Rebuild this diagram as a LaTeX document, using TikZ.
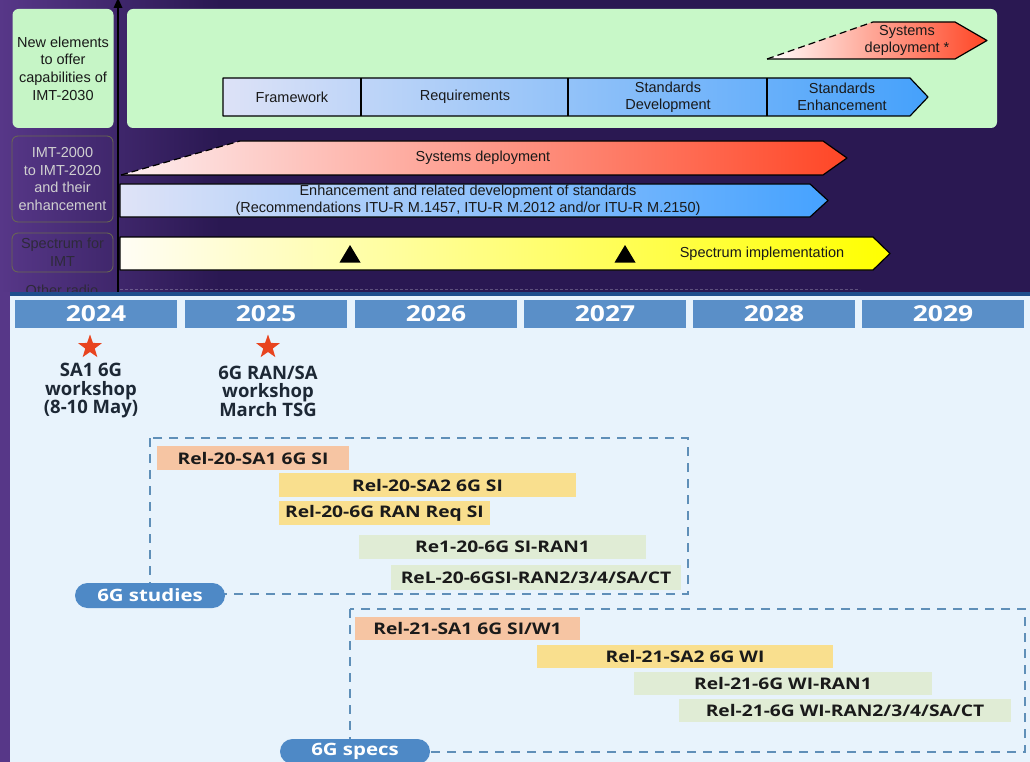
\documentclass[tikz,border=0pt]{standalone}
\usepackage{fontspec}
\setmainfont{Liberation Sans}
\newfontfamily\osans{Open Sans}
\newfontfamily\osanswide[FakeStretch=1.2]{Open Sans}
\usetikzlibrary{shapes.geometric}

% page and panel colours
\definecolor{bgpurple}{HTML}{2A1852}
\definecolor{bgleft}{HTML}{573788}
\definecolor{panelbg}{HTML}{E8F3FC}
\definecolor{panelrim}{HTML}{1F4E8C}
% ITU time line
\definecolor{boxgreen}{HTML}{C8F8C8}
\definecolor{taggreen}{HTML}{C6F5C6}
\definecolor{tagrim}{HTML}{6B6A50}
\definecolor{taglight}{HTML}{D0D0D0}
\definecolor{tagdark}{HTML}{2E2A3A}
\definecolor{chainL}{HTML}{DDE2F7}
\definecolor{chainM}{HTML}{B6C9F0}
\definecolor{chainR}{HTML}{45A1FB}
\definecolor{sysM}{HTML}{FFD6D0}
\definecolor{sysR}{HTML}{FF4524}
\definecolor{depL}{HTML}{FDEEF0}
\definecolor{depM}{HTML}{FCD2D0}
\definecolor{depR}{HTML}{FF4626}
\definecolor{enhL}{HTML}{DFE3F7}
\definecolor{enhM}{HTML}{BFCDF2}
\definecolor{enhR}{HTML}{45A2FF}
\definecolor{specL}{HTML}{FFFDF5}
\definecolor{specM}{HTML}{FFEFCC}
\definecolor{specR}{HTML}{FFFF00}
% 3GPP time line
\definecolor{yearblue}{HTML}{5A8FC8}
\definecolor{evtext}{HTML}{1D2835}
\definecolor{bartext}{HTML}{1A1A1A}
\definecolor{peach}{HTML}{F6C5A3}
\definecolor{sand}{HTML}{F9DF8E}
\definecolor{sage}{HTML}{E0ECD5}
\definecolor{phaseline}{HTML}{5F8FB8}
\definecolor{pillblue}{HTML}{4E89C6}
\definecolor{starred}{HTML}{E8441F}

\begin{document}
\begin{tikzpicture}[x=1pt,y=-1pt,
  itutext/.style={font=\fontsize{14.5}{17}\selectfont, align=center, inner sep=0, text=black!90},
  sidetag/.style={font=\fontsize{14.5}{17.7}\selectfont, align=center, inner sep=0, rounded corners=6,
                  minimum width=101},
  outline/.style={draw=black, line width=1.2pt, line join=round},
  yearbox/.style={fill=yearblue, text=white, minimum width=162, minimum height=28, inner sep=0,
                  font=\osanswide\bfseries\fontsize{22}{22}\selectfont},
  eventtext/.style={text=evtext, align=center, inner sep=0,
                    font=\osans\bfseries\fontsize{18.5}{18.5}\selectfont},
  bar/.style={minimum height=24, inner sep=0, text=bartext,
              font=\osanswide\bfseries\fontsize{16}{16}\selectfont},
  peachbar/.style={bar, fill=peach},
  sandbar/.style={bar, fill=sand},
  sagebar/.style={bar, fill=sage},
  phasebox/.style={draw=phaseline, line width=1.8pt, dash pattern=on 9pt off 7pt},
  pill/.style={fill=pillblue, text=white, rounded corners=12.5, minimum width=150, minimum height=25,
               inner sep=0, font=\osanswide\bfseries\fontsize{17}{17}\selectfont},
  redstar/.style={star, star points=5, star point ratio=2.5, fill=starred, inner sep=0, minimum size=25}
]
\useasboundingbox (0,0) rectangle (1030,762);
\clip (0,0) rectangle (1030,762);

% ---------------- ITU-R time line (upper band only) ----------------
\begin{scope}
\clip (0,0) rectangle (1030,292);
% backdrop
\fill[bgpurple] (0,0) rectangle (1030,292);
\shade[left color=bgleft, right color=bgpurple] (0,0) rectangle (220,292);

% row headers
\node[sidetag, fill=taggreen, minimum height=119, text=black!90] (tagnew) at (63,68.5)
  {New elements\\to offer\\capabilities of\\IMT-2030};
\node[sidetag, draw=tagrim, line width=0.8pt, minimum height=86, text=taglight] (tagimt) at (62.5,179)
  {IMT-2000\\to IMT-2020\\and their\\enhancement};
\node[sidetag, draw=tagrim, line width=0.8pt, minimum height=39, text=tagdark] (tagspec) at (62.5,252.5)
  {Spectrum for\\IMT};
\node[itutext, text=tagdark] (tagother) at (62,290) {Other radio};

\draw[densely dashed, line width=0.6pt, draw=white, opacity=0.25] (120,289) -- (860,289);

% time axis with its arrow head at the top edge
\fill[black] (117,6) rectangle (119,292);
\fill[black] (113.5,8) -- (118,-2) -- (122.5,8) -- cycle;

% IMT-2030 area
\fill[boxgreen, rounded corners=6] (127,9) rectangle (997,128);

% Framework -> Standards Enhancement chain
\shade[left color=chainL, middle color=chainM, right color=chainR]
  (223,78) -- (910,78) -- (928,97) -- (910,116) -- (223,116) -- cycle;
\draw[outline] (223,78) -- (910,78) -- (928,97) -- (910,116) -- (223,116) -- cycle;
\draw[outline] (361,78) -- (361,116) (568,78) -- (568,116) (767,78) -- (767,116);
\node[itutext] (fw)   at (292,97)  {Framework};
\node[itutext] (req)  at (465,97)  {Requirements};
\node[itutext] (sdev) at (668,97)  {Standards\\Development};
\node[itutext] (senh) at (842,97)  {Standards\\Enhancement};

% IMT-2030 systems deployment
\shade[left color=white, middle color=sysM, right color=sysR]
  (767,59) -- (873,22) -- (955,22) -- (987,40.5) -- (955,59) -- cycle;
\draw[outline, dash pattern=on 7pt off 4pt] (767,59) -- (873,22);
\draw[outline] (873,22) -- (955,22) -- (987,40.5) -- (955,59) -- (767,59);
\node[itutext] (sys2030) at (907,40.5) {Systems\\deployment *};

% IMT-2000 to IMT-2020 systems deployment
\shade[left color=depL, middle color=depM, right color=depR]
  (121,175) -- (240,141) -- (823,141) -- (847,158) -- (823,175) -- cycle;
\draw[outline, dash pattern=on 7pt off 4pt] (121,175) -- (240,141);
\draw[outline] (240,141) -- (823,141) -- (847,158) -- (823,175) -- (121,175);
\node[itutext] (sysold) at (483,158) {Systems deployment};

% enhancement of standards
\shade[left color=enhL, middle color=enhM, right color=enhR]
  (120,184) -- (810,184) -- (828,200.5) -- (810,217) -- (120,217) -- cycle;
\draw[outline] (120,184) -- (810,184) -- (828,200.5) -- (810,217) -- (120,217) -- cycle;
\node[itutext] (enh) at (468,200.5)
  {Enhancement and related development of standards\\(Recommendations ITU-R M.1457, ITU-R M.2012 and/or ITU-R M.2150)};

% spectrum implementation
\shade[left color=specL, middle color=specM, right color=specR]
  (120,237) -- (873,237) -- (890,253.5) -- (873,270) -- (120,270) -- cycle;
\draw[outline] (120,237) -- (873,237) -- (890,253.5) -- (873,270) -- (120,270) -- cycle;
\fill (339.5,262.5) -- (350,245) -- (360.5,262.5) -- cycle;
\fill (614.5,262.5) -- (625,245) -- (635.5,262.5) -- cycle;
\node[itutext] (specimpl) at (762,253.5) {Spectrum implementation};
\end{scope}

% ---------------- 3GPP time line ----------------
\fill[bgleft] (0,292) rectangle (10,762);
\fill[panelbg] (10,292) rectangle (1030,762);
\fill[panelrim] (10,292) rectangle (1030,296);

% years
\node[yearbox] (y2024) at (96,314)    {2024};
\node[yearbox] (y2025) at (266,314)   {2025};
\node[yearbox] (y2026) at (436,314)   {2026};
\node[yearbox] (y2027) at (605,314)   {2027};
\node[yearbox] (y2028) at (774,314)   {2028};
\node[yearbox] (y2029) at (943,314)   {2029};

% workshops
\node[redstar] (star24) at (90,347) {};
\node[redstar] (star25) at (268,347) {};
\node[eventtext] (ws24) at (91,391)  {SA1 6G\\workshop\\(8-10 May)};
\node[eventtext] (ws25) at (268,391) {6G RAN/SA\\workshop\\March TSG};

% Release 20: 6G studies
\draw[phasebox] (150,438) rectangle (688,594);
\node[peachbar, minimum width=192] (r20sa1) at (253,458)   {Rel-20-SA1 6G SI};
\node[sandbar,  minimum width=297] (r20sa2) at (427.5,485) {Rel-20-SA2 6G SI};
\node[sandbar,  minimum width=211] (r20req) at (384.5,513) {Rel-20-6G RAN Req SI};
\node[sagebar,  minimum width=287] (r20ran1) at (502.5,547) {Re1-20-6G SI-RAN1};
\node[sagebar,  minimum width=290, minimum height=25] (r20rest) at (536,577.5) {ReL-20-6GSI-RAN2/3/4/SA/CT};
\node[pill] (studies) at (150,595.5) {6G studies};

% Release 21: 6G specs
\draw[phasebox] (350,609) rectangle (1025,752);
\node[peachbar, minimum width=225, minimum height=23] (r21sa1) at (467.5,628.5) {Rel-21-SA1 6G SI/W1};
\node[sandbar,  minimum width=296, minimum height=23] (r21sa2) at (685,656.5)   {Rel-21-SA2 6G WI};
\node[sagebar,  minimum width=298, minimum height=23] (r21ran1) at (783,683.5)  {Rel-21-6G WI-RAN1};
\node[sagebar,  minimum width=332, minimum height=23] (r21rest) at (845,710.5)  {Rel-21-6G WI-RAN2/3/4/SA/CT};
\node[pill] (specs) at (355,751.5) {6G specs};
\end{tikzpicture}
\end{document}
